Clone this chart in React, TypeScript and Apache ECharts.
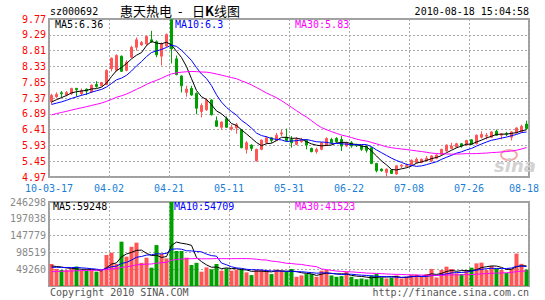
import React, { useEffect, useRef } from "react";
import * as echarts from "echarts";

// ---- data ----
const OPENS = [
  7.26, 7.41, 7.53, 7.46, 7.5, 7.66, 7.5, 7.64, 7.56, 7.78,
  7.74, 7.78, 8.26, 8.21, 8.64, 8.21, 8.61, 8.91, 8.98, 9.01,
  9.14, 9.08, 8.64, 8.95, 9.75, 8.56, 8.04, 7.54, 7.66, 7.51,
  6.96, 7.01, 7.31, 6.68, 6.48, 6.74, 6.43, 6.46, 6.41, 5.81,
  5.94, 5.46, 5.81, 6.01, 6.16, 6.08, 6.28, 6.18, 6.11, 5.96,
  6.04, 6.08, 5.84, 5.74, 5.81, 5.94, 6.11, 6.14, 6.11, 5.91,
  6.01, 5.96, 5.91, 5.91, 5.86, 5.38, 5.21, 5.11, 5.18, 5.06,
  5.3, 5.29, 5.34, 5.41, 5.41, 5.46, 5.46, 5.54, 5.66, 5.76,
  5.84, 5.88, 5.98, 5.94, 6.1, 5.98, 6.18, 6.21, 6.18, 6.36,
  6.24, 6.29, 6.18, 6.31, 6.34, 6.58,
];
const CLOSES = [
  7.45, 7.48, 7.5, 7.54, 7.66, 7.62, 7.6, 7.58, 7.76, 7.72,
  7.84, 8.21, 8.58, 8.66, 8.18, 8.46, 8.91, 9.14, 9.06, 9.24,
  9.08, 8.68, 9.02, 9.3, 8.86, 8.08, 7.74, 7.64, 7.46, 7.06,
  7.14, 7.31, 6.86, 6.51, 6.64, 6.48, 6.48, 6.56, 5.86, 6.01,
  5.84, 5.81, 6.09, 6.16, 6.08, 6.24, 6.31, 6.08, 6.01, 6.11,
  6.08, 5.94, 5.74, 5.81, 6.01, 6.14, 6.01, 6.04, 5.91, 6.01,
  5.91, 5.92, 5.81, 5.78, 5.38, 5.16, 5.16, 5.21, 5.08, 5.31,
  5.33, 5.32, 5.48, 5.51, 5.51, 5.54, 5.61, 5.64, 5.81, 5.94,
  5.91, 5.98, 5.91, 6.08, 5.96, 6.24, 6.26, 6.24, 6.34, 6.24,
  6.28, 6.27, 6.34, 6.46, 6.51, 6.44,
];
const LOWS = [
  7.18, 7.36, 7.38, 7.42, 7.46, 7.41, 7.44, 7.46, 7.52, 7.68,
  7.72, 7.76, 8.18, 8.18, 8.16, 8.18, 8.58, 8.81, 8.96, 8.96,
  9.04, 8.61, 8.36, 8.92, 8.42, 8.06, 7.54, 7.41, 7.44, 6.88,
  6.78, 6.98, 6.84, 6.49, 6.41, 6.46, 6.38, 6.28, 5.84, 5.68,
  5.76, 5.44, 5.78, 5.98, 6.01, 6.06, 6.21, 6.04, 5.86, 5.94,
  6.01, 5.81, 5.72, 5.68, 5.78, 5.91, 5.96, 6.01, 5.76, 5.88,
  5.86, 5.88, 5.76, 5.71, 5.36, 5.11, 5.13, 4.98, 5.06, 5.04,
  5.24, 5.26, 5.31, 5.38, 5.39, 5.44, 5.43, 5.51, 5.64, 5.74,
  5.81, 5.86, 5.86, 5.91, 5.94, 5.96, 6.14, 6.11, 6.16, 6.22,
  6.11, 6.21, 6.08, 6.29, 6.32, 6.42,
];
const HIGHS = [
  7.5, 7.54, 7.58, 7.58, 7.68, 7.68, 7.66, 7.66, 7.78, 7.88,
  7.86, 8.24, 8.6, 8.7, 8.66, 8.52, 8.96, 9.21, 9.1, 9.28,
  9.41, 9.12, 9.06, 9.33, 9.77, 8.66, 8.06, 7.74, 7.74, 7.54,
  7.21, 7.36, 7.33, 6.81, 6.66, 6.81, 6.56, 6.61, 6.43, 6.06,
  5.96, 5.83, 6.11, 6.21, 6.18, 6.31, 6.41, 6.44, 6.21, 6.18,
  6.16, 6.11, 5.86, 5.86, 6.03, 6.18, 6.16, 6.18, 6.21, 6.04,
  6.06, 5.98, 5.94, 5.93, 5.88, 5.4, 5.23, 5.23, 5.2, 5.33,
  5.36, 5.38, 5.5, 5.56, 5.53, 5.61, 5.63, 5.66, 5.83, 5.96,
  6.01, 6.01, 6.0, 6.1, 6.12, 6.26, 6.36, 6.31, 6.36, 6.41,
  6.3, 6.34, 6.36, 6.48, 6.56, 6.68,
];
const VOLUMES = [
  64500, 50000, 47000, 47000, 50000, 57000, 45000, 45000, 46000, 42000,
  44000, 90900, 97700, 64500, 130000, 86000, 115000, 127000, 68000, 83000,
  53700, 120000, 94000, 81000, 246298, 102600, 102600, 83000, 61600, 68000,
  42000, 54700, 48900, 64500, 45000, 51800, 45000, 48000, 50000, 40000,
  32000, 48000, 47000, 45000, 35000, 48000, 45000, 42000, 49800, 27000,
  31000, 35000, 35000, 27000, 45000, 46900, 31000, 27000, 29000, 42000,
  27000, 20000, 22000, 19500, 31000, 35000, 25000, 22000, 25000, 31000,
  22000, 27000, 33000, 33000, 27000, 35000, 49800, 25000, 47000, 56700,
  50000, 37000, 35000, 47000, 53700, 66400, 68400, 47000, 58600, 51800,
  47000, 38000, 50000, 95000, 65000, 48000,
];
// estimated closes / volumes before the first visible day (feed the moving averages)
const HISTORY_CLOSES = [
  6.38, 6.45, 6.52, 6.48, 6.55, 6.6, 6.58, 6.63, 6.7, 6.66,
  6.72, 6.78, 6.74, 6.8, 6.86, 6.83, 6.9, 6.95, 6.92, 6.98,
  7.08, 7.12, 7.05, 7.1, 7.15, 7.13, 7.18, 7.22, 7.26,
];
const HISTORY_VOLUMES = [
  32000, 28500, 36000, 41000, 30500, 27000, 33500, 38000, 35000, 29500,
  42000, 37500, 31000, 34500, 40500, 36500, 33000, 39500, 44000, 42500,
  48000, 52500, 47000, 55000, 50500, 58000, 54500, 61000, 56000,
];

const DATE_TICKS = ["10-03-17", "04-02", "04-21", "05-11", "05-31", "06-22", "07-08", "07-26", "08-18"];
const PRICE_TICKS = ["4.97", "5.45", "5.93", "6.41", "6.89", "7.37", "7.85", "8.33", "8.81", "9.29", "9.77"];
const PRICE_MIN = 4.97;
const PRICE_STEP = 0.48;
const VOLUME_TICKS = ["", "49260", "98519", "147779", "197038", "246298"];
const VOLUME_MAX = 246298;

const STOCK_CODE = "sz000692";
const STOCK_NAME = "惠天热电";
const TIMESTAMP = "2010-08-18 15:04:58";
const PRICE_MA_LABELS = ["MA5:6.36", "MA10:6.3", "MA30:5.83"];
const VOLUME_MA_LABELS = ["MA5:59248", "MA10:54709", "MA30:41523"];
const MA_PERIODS = [5, 10, 30];
const MA_COLORS = ["#000000", "#0000ff", "#ff00ff"];

const UP = "#ff5555";
const DOWN = "#00a000";
const MONO = '"DejaVu Sans Mono", monospace';
const CJK = '"Noto Sans CJK SC", sans-serif';

function movingAverage(history: number[], values: number[], n: number) {
  const all = history.concat(values);
  const off = history.length;
  return values.map((_, i) => {
    let s = 0;
    for (let k = off + i - n + 1; k <= off + i; k++) s += all[k];
    return s / n;
  });
}

const toAxis = (p: number) => (p - PRICE_MIN) / PRICE_STEP;

function txt(x: number, y: number, text: string, fill: string, opts: any = {}) {
  const align = opts.align || "left";
  return {
    type: "text",
    x,
    y,
    z: 100,
    silent: true,
    style: {
      text,
      fill,
      fontSize: opts.fontSize || 10,
      fontFamily: opts.fontFamily || MONO,
      fontWeight: opts.fontWeight || "normal",
      fontStyle: opts.fontStyle || "normal",
      align,
      textAlign: align,
      verticalAlign: "middle",
      textVerticalAlign: "middle",
    },
  };
}

export default function App() {
  const ref = useRef<HTMLDivElement>(null);

  useEffect(() => {
    if (!ref.current) return;
    const chart = echarts.init(ref.current, undefined, { renderer: "svg" });
    const cats = OPENS.map((_, i) => String(i));
    const candle = OPENS.map((o, i) => [toAxis(o), toAxis(CLOSES[i]), toAxis(LOWS[i]), toAxis(HIGHS[i])]);
    const priceMA = MA_PERIODS.map((n) => movingAverage(HISTORY_CLOSES, CLOSES, n).map(toAxis));
    const volMA = MA_PERIODS.map((n) => movingAverage(HISTORY_VOLUMES, VOLUMES, n));
    const volData = VOLUMES.map((v, i) => ({
      value: v,
      itemStyle: { color: CLOSES[i] >= OPENS[i] ? UP : DOWN },
    }));

    const dotted = { color: "#a8a8a8", width: 1, type: [2, 2] as any };
    const hiddenCat = (gridIndex: number) => ({
      type: "category",
      gridIndex,
      data: cats,
      show: false,
      position: "top",
      boundaryGap: true,
    });
    const tickCat = (gridIndex: number, showLabel: boolean) => ({
      type: "category",
      gridIndex,
      data: DATE_TICKS,
      position: "bottom",
      boundaryGap: false,
      axisLine: { show: false },
      axisTick: { show: false },
      axisLabel: {
        show: showLabel,
        interval: 0,
        color: "#1c7fd6",
        fontSize: 10,
        fontFamily: MONO,
        margin: 6,
        formatter: (v: string, idx: number) => (idx === DATE_TICKS.length - 1 ? "{last|" + v + "}" : v),
        rich: { last: { color: "#1c7fd6", fontSize: 10, fontFamily: MONO, padding: [0, 10, 0, 0] } },
      },
      splitLine: { show: true, interval: 0, lineStyle: dotted },
    });

    const option: any = {
      animation: false,
      backgroundColor: "#ffffff",
      grid: [
        { left: 49, top: 19, width: 480, height: 158, show: true, borderColor: "#a0a0a0", borderWidth: 2, backgroundColor: "transparent" },
        { left: 49, top: 202, width: 480, height: 84, show: true, borderColor: "#a0a0a0", borderWidth: 2, backgroundColor: "transparent" },
      ],
      xAxis: [hiddenCat(0), tickCat(0, true), hiddenCat(1), tickCat(1, false)],
      yAxis: [
        {
          type: "value",
          gridIndex: 0,
          min: 0,
          max: PRICE_TICKS.length - 1,
          interval: 1,
          axisLine: { show: false },
          axisTick: { show: false },
          axisLabel: {
            color: "#ff0000",
            fontSize: 10,
            fontFamily: MONO,
            margin: 3,
            formatter: (v: number) => PRICE_TICKS[Math.round(v)] || "",
          },
          splitLine: { show: true, lineStyle: dotted },
        },
        {
          type: "value",
          gridIndex: 1,
          min: 0,
          max: VOLUME_MAX,
          interval: VOLUME_MAX / 5,
          axisLine: { show: false },
          axisTick: { show: false },
          axisLabel: {
            color: "#888888",
            fontSize: 10,
            fontFamily: MONO,
            margin: 3,
            formatter: (v: number) => VOLUME_TICKS[Math.round(v / (VOLUME_MAX / 5))] || "",
          },
          splitLine: { show: true, lineStyle: dotted },
        },
      ],
      series: [
        {
          type: "candlestick",
          xAxisIndex: 0,
          yAxisIndex: 0,
          data: candle,
          barWidth: 3,
          itemStyle: { color: UP, color0: DOWN, borderColor: UP, borderColor0: DOWN, borderWidth: 1 },
        },
        ...priceMA.map((d, k) => ({
          type: "line",
          xAxisIndex: 0,
          yAxisIndex: 0,
          data: d,
          showSymbol: false,
          symbol: "none",
          lineStyle: { color: MA_COLORS[k], width: 1 },
          z: 3,
        })),
        {
          type: "bar",
          xAxisIndex: 2,
          yAxisIndex: 1,
          data: volData,
          barWidth: 4,
        },
        ...volMA.map((d, k) => ({
          type: "line",
          xAxisIndex: 2,
          yAxisIndex: 1,
          data: d,
          showSymbol: false,
          symbol: "none",
          lineStyle: { color: MA_COLORS[k], width: 1 },
          z: 3,
        })),
      ],
      graphic: [
        {
          type: "group",
          z: 1,
          silent: true,
          children: [
            {
              type: "ellipse",
              shape: { cx: 509, cy: 155, rx: 8, ry: 5 },
              style: { fill: "none", stroke: "#f6a8a8", lineWidth: 2 },
            },
            {
              type: "text",
              x: 494,
              y: 165,
              style: {
                text: "sina",
                fill: "#d2d2d2",
                fontSize: 18,
                fontWeight: "bold",
                fontStyle: "italic",
                fontFamily: "DejaVu Sans, sans-serif",
                align: "left",
                textAlign: "left",
                verticalAlign: "middle",
                textVerticalAlign: "middle",
              },
            },
          ],
        },
        txt(50, 11, STOCK_CODE, "#000000"),
        txt(120, 10, STOCK_NAME, "#000000", { fontSize: 13, fontFamily: CJK }),
        txt(178, 10, "-", "#000000", { fontSize: 13, fontFamily: CJK }),
        txt(192, 10, "日", "#000000", { fontSize: 13, fontFamily: CJK }),
        txt(205, 10, "K", "#000000", { fontSize: 13, fontWeight: "bold", fontFamily: CJK }),
        txt(214, 10, "线图", "#000000", { fontSize: 13, fontFamily: CJK }),
        txt(529, 11, TIMESTAMP, "#000000", { align: "right" }),
        ...PRICE_MA_LABELS.map((t, k) => txt(55 + 120 * k, 24, t, MA_COLORS[k])),
        ...VOLUME_MA_LABELS.map((t, k) => txt(53 + 121 * k, 206, t, MA_COLORS[k])),
        txt(50, 292, "Copyright 2010 SINA.COM", "#555555"),
        txt(529, 292, "http://finance.sina.com.cn", "#555555", { align: "right" }),
      ],
    };
    chart.setOption(option);
    return () => chart.dispose();
  }, []);

  return (
    <div
      ref={ref}
      style={{ position: "absolute", left: 0, top: 0, width: 545, height: 300, background: "#ffffff" }}
    />
  );
}
